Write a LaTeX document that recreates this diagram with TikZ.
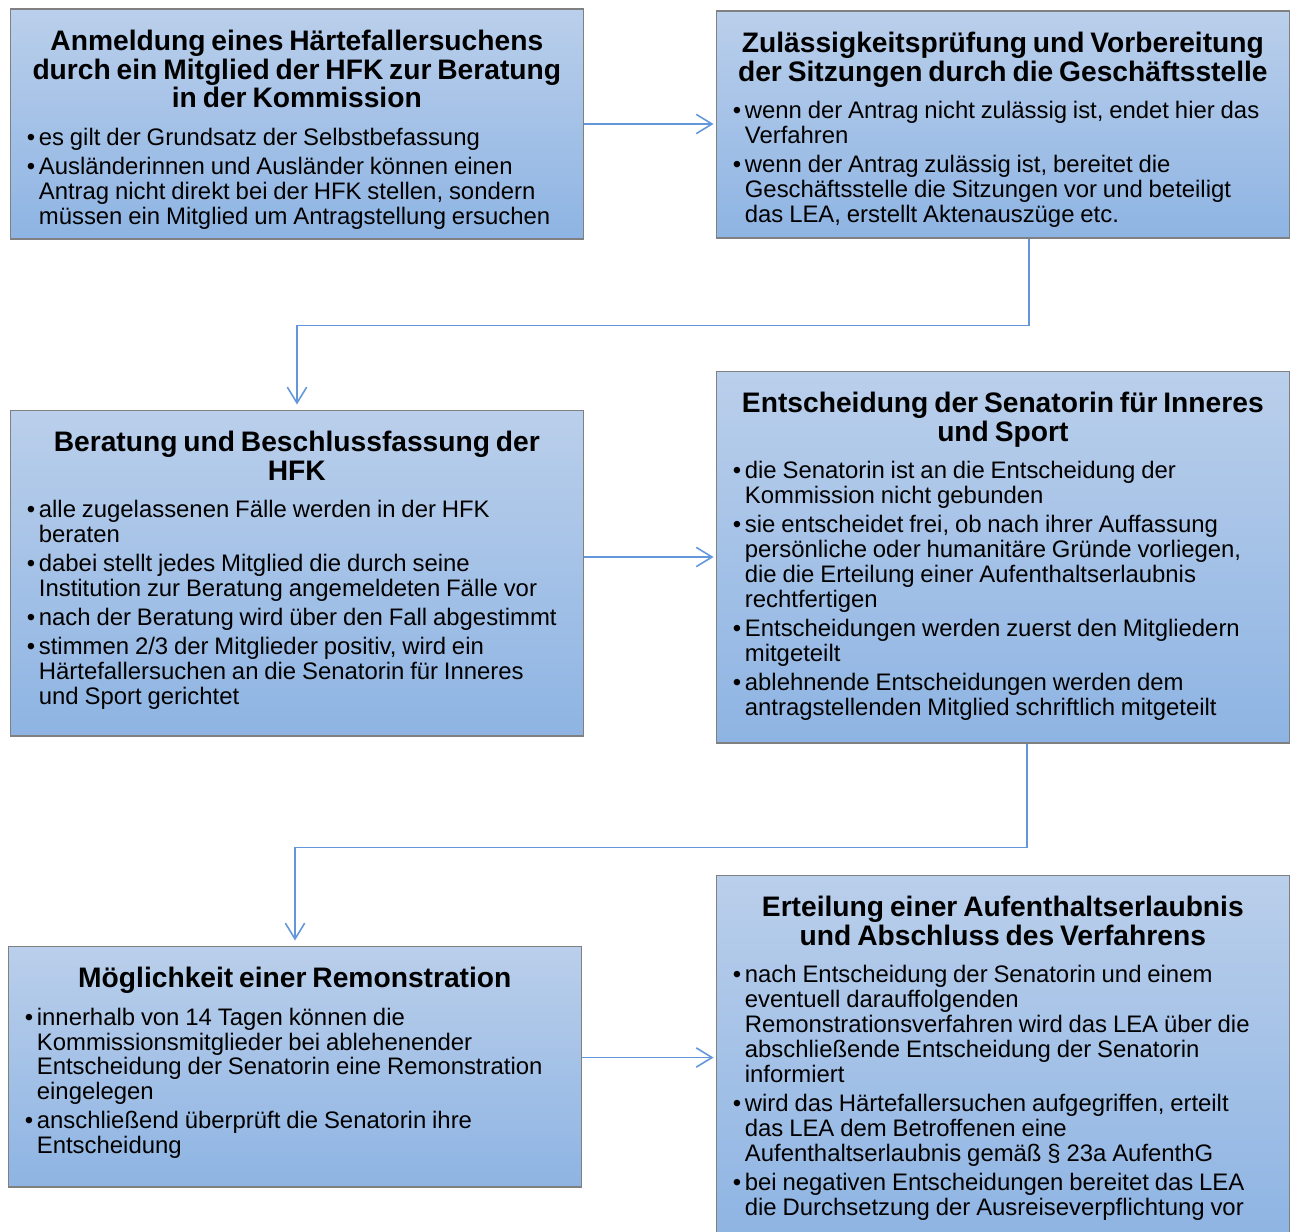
\documentclass[tikz,border=0pt]{standalone}
\usepackage{fontspec}
\setmainfont{Liberation Sans}
\usetikzlibrary{arrows.meta,calc,positioning}
\definecolor{boxtop}{RGB}{186,207,235}
\definecolor{boxbot}{RGB}{142,180,227}
\definecolor{boxline}{RGB}{128,128,128}
\definecolor{flowline}{RGB}{98,152,218}
\newcommand{\headline}[1]{{\centering\fontsize{16.05}{16.4}\selectfont\bfseries #1\par}\vspace{5pt}}
\newcommand{\listpoint}[1]{\par\noindent\makebox[0.24cm][l]{\textbullet}%
  \parbox[t]{10.9cm}{\raggedright #1\par\xdef\itemdepth{\the\prevdepth}}\par\prevdepth=\itemdepth}
\newcommand{\listfont}{\fontsize{13.6}{14.2}\selectfont\parskip=2.3pt}

\begin{document}
\begin{tikzpicture}[x=0.02cm, y=-0.02cm,
                stepbox/.style={draw=boxline, line width=0.6pt, top color=boxtop, bottom color=boxbot,
                                minimum width=11.48cm, inner sep=0pt},
                steptext/.style={anchor=north west, inner sep=0pt, text width=10.8cm, align=left}]
                \tikzset{flow/.style={draw=flowline, line width=0.9pt, -{Straight Barb[length=9pt,width=11pt]}}}
                \useasboundingbox (0,0) rectangle (1290,1231);
                \node[stepbox, minimum height=4.6cm] (aBox) at (297,124) {};
                \node[stepbox, minimum height=4.54cm] (bBox) at (1003,124.5) {};
                \node[stepbox, minimum height=6.52cm] (cBox) at (297,573) {};
                \node[stepbox, minimum height=7.44cm] (dBox) at (1003,557) {};
                \node[stepbox, minimum height=4.82cm] (eBox) at (295,1066.5) {};
                \node[stepbox, minimum height=7.3cm] (fBox) at (1003,1057.5) {};
                \node[steptext] (aText) at ($(aBox.north west)+(17,21)$) {\headline{Anmeldung eines Härtefallersuchens\\durch ein Mitglied der HFK zur Beratung\\in der Kommission}\listfont
                    \listpoint{es gilt der Grundsatz der Selbstbefassung}
                    \listpoint{Ausländerinnen und Ausländer können einen\\Antrag nicht direkt bei der HFK stellen, sondern\\müssen ein Mitglied um Antragstellung ersuchen}};
                \node[steptext] (bText) at ($(bBox.north west)+(17,21)$) {\headline{Zulässigkeitsprüfung und Vorbereitung\\der Sitzungen durch die Geschäftsstelle}\listfont
                    \listpoint{wenn der Antrag nicht zulässig ist, endet hier das\\Verfahren}
                    \listpoint{wenn der Antrag zulässig ist, bereitet die\\Geschäftsstelle die Sitzungen vor und beteiligt\\das LEA, erstellt Aktenauszüge etc.}};
                \node[steptext] (cText) at ($(cBox.north west)+(17,21)$) {\headline{Beratung und Beschlussfassung der\\HFK}\listfont
                    \listpoint{alle zugelassenen Fälle werden in der HFK\\beraten}
                    \listpoint{dabei stellt jedes Mitglied die durch seine\\Institution zur Beratung angemeldeten Fälle vor}
                    \listpoint{nach der Beratung wird über den Fall abgestimmt}
                    \listpoint{stimmen 2/3 der Mitglieder positiv, wird ein\\Härtefallersuchen an die Senatorin für Inneres\\und Sport gerichtet}};
                \node[steptext] (dText) at ($(dBox.north west)+(17,21)$) {\headline{Entscheidung der Senatorin für Inneres\\und Sport}\listfont
                    \listpoint{die Senatorin ist an die Entscheidung der\\Kommission nicht gebunden}
                    \listpoint{sie entscheidet frei, ob nach ihrer Auffassung\\persönliche oder humanitäre Gründe vorliegen,\\die die Erteilung einer Aufenthaltserlaubnis\\rechtfertigen}
                    \listpoint{Entscheidungen werden zuerst den Mitgliedern\\mitgeteilt}
                    \listpoint{ablehnende Entscheidungen werden dem\\antragstellenden Mitglied schriftlich mitgeteilt}};
                \node[steptext] (eText) at ($(eBox.north west)+(17,21)$) {\headline{Möglichkeit einer Remonstration}\listfont
                    \listpoint{innerhalb von 14 Tagen können die\\Kommissionsmitglieder bei ablehenender\\Entscheidung der Senatorin eine Remonstration\\eingelegen}
                    \listpoint{anschließend überprüft die Senatorin ihre\\Entscheidung}};
                \node[steptext] (fText) at ($(fBox.north west)+(17,21)$) {\headline{Erteilung einer Aufenthaltserlaubnis\\und Abschluss des Verfahrens}\listfont
                    \listpoint{nach Entscheidung der Senatorin und einem\\eventuell darauffolgenden\\Remonstrationsverfahren wird das LEA über die\\abschließende Entscheidung der Senatorin\\informiert}
                    \listpoint{wird das Härtefallersuchen aufgegriffen, erteilt\\das LEA dem Betroffenen eine\\Aufenthaltserlaubnis gemäß § 23a AufenthG}
                    \listpoint{bei negativen Entscheidungen bereitet das LEA\\die Durchsetzung der Ausreiseverpflichtung vor}};
                % connectors
                \draw [flow, shorten >=0.04cm] (aBox.east) -- (aBox.east -| bBox.west);
                \draw [flow, shorten >=0.1cm] ($(bBox.south)+(26,0)$) -- ++(0,87) -| (cBox.north);
                \draw [flow, shorten >=0.04cm] (cBox.east |- dBox.west) -- (dBox.west);
                \draw [flow, shorten >=0.1cm] ($(dBox.south)+(24,0)$) -- ++(0,104) -| (eBox.north);
                \draw [flow, shorten >=0.04cm] (eBox.east |- fBox.west) -- (fBox.west);
            \end{tikzpicture}
\end{document}
